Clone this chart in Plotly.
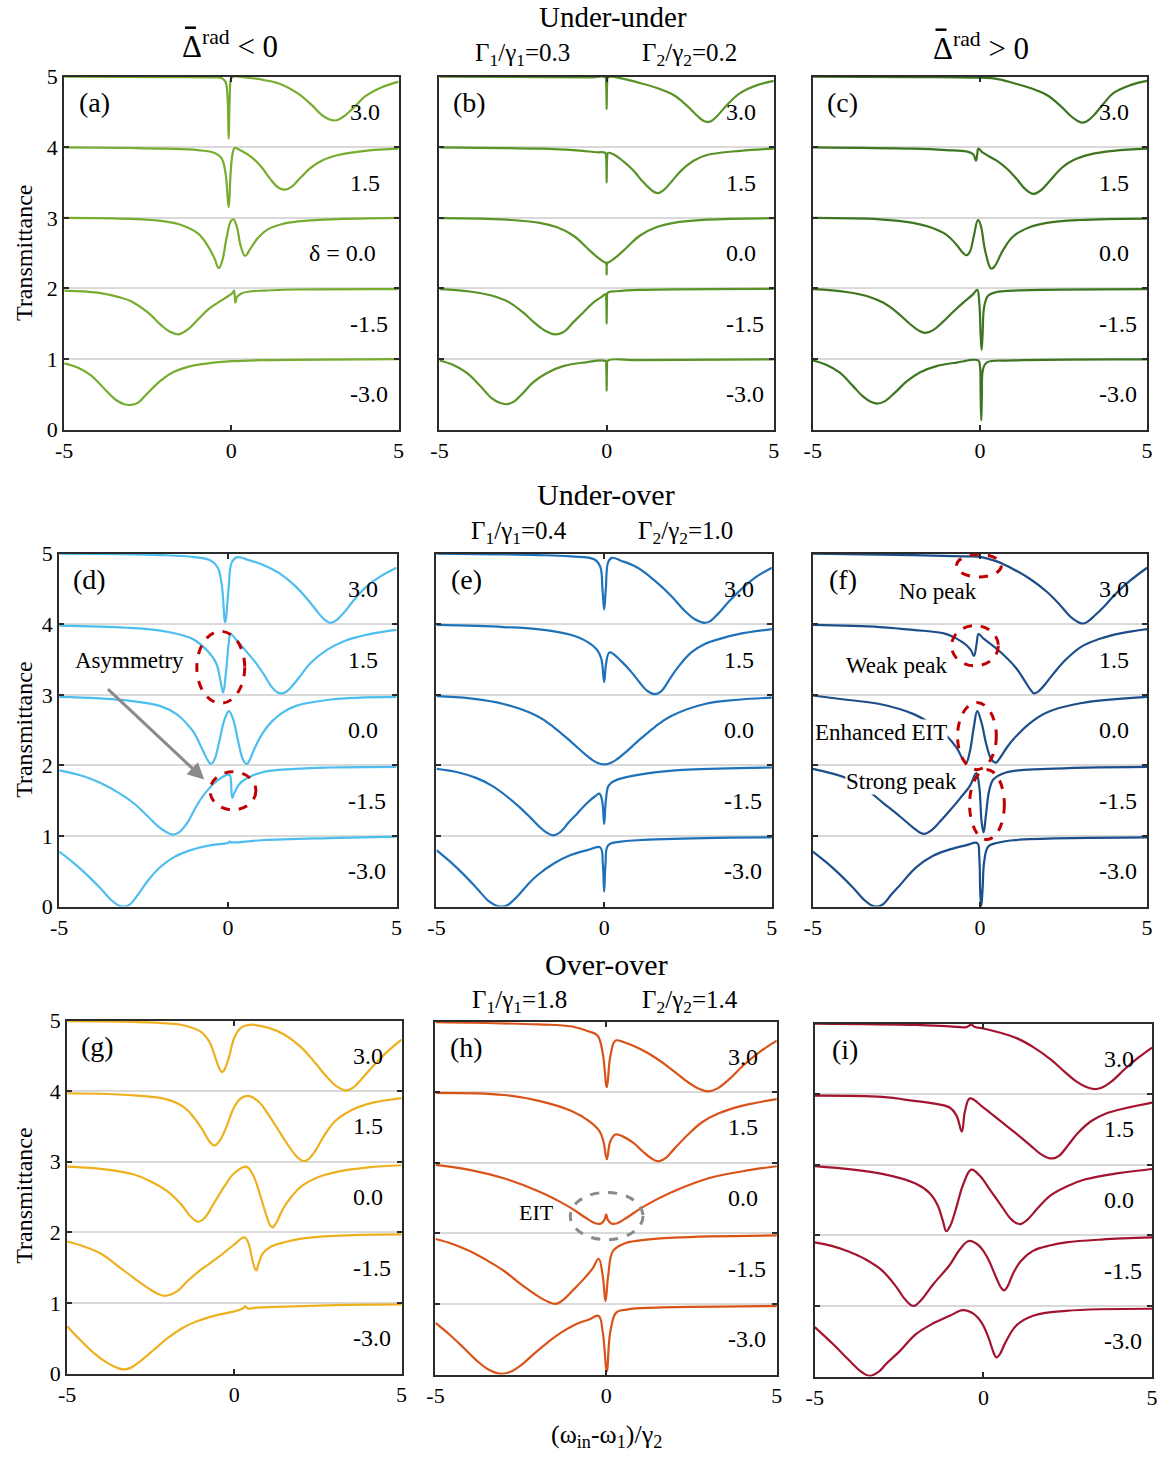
import plotly.graph_objects as go

# ---------------------------------------------------------------------------
# Transmission spectra T(x), x = (w_in - w_1)/gamma_2, one list of (x, T) per
# detuning delta.  Curves are stacked with an offset of 1 per delta.
# ---------------------------------------------------------------------------
DELTA_LABELS = ["3.0", "1.5", "0.0", "-1.5", "-3.0"]
STACK_OFFSETS = [4, 3, 2, 1, 0]

# (a) under-under, negative radiative shift
A_D30 = [(-5, 1.0), (-2, 0.995), (-0.5, 0.99), (-0.3, 0.98), (-0.18, 0.93), (-0.12, 0.75), (-0.08, 0.12),
         (-0.05, 0.7), (-0.01, 0.97), (0.05, 1.0), (0.5, 0.985), (1.0, 0.95), (1.5, 0.89), (2.0, 0.76),
         (2.4, 0.6), (2.7, 0.46), (2.9, 0.4), (3.05, 0.38), (3.2, 0.39), (3.4, 0.45), (3.7, 0.58),
         (4.0, 0.72), (4.5, 0.85), (5.0, 0.93)]
A_D15 = [(-5, 1.0), (-3, 0.99), (-2, 0.98), (-1, 0.96), (-0.5, 0.92), (-0.3, 0.85), (-0.18, 0.65), (-0.08, 0.15),
         (-0.02, 0.65), (0.04, 0.92), (0.1, 0.99), (0.3, 0.95), (0.6, 0.86), (0.9, 0.72), (1.15, 0.56),
         (1.4, 0.43), (1.6, 0.4), (1.8, 0.44), (2.05, 0.56), (2.35, 0.7), (2.7, 0.81), (3.2, 0.89),
         (4.0, 0.95), (5.0, 0.98)]
A_D00 = [(-5, 1.0), (-3, 0.985), (-2, 0.95), (-1.5, 0.9), (-1.0, 0.78), (-0.7, 0.6), (-0.5, 0.42), (-0.38, 0.29),
         (-0.28, 0.38), (-0.15, 0.7), (-0.02, 0.95), (0.06, 0.98), (0.16, 0.88), (0.28, 0.6), (0.41, 0.46),
         (0.55, 0.55), (0.8, 0.72), (1.1, 0.84), (1.5, 0.91), (2.0, 0.95), (3.0, 0.98), (5.0, 1.0)]
A_D_15 = [(-5, 0.97), (-4, 0.94), (-3.4, 0.88), (-3, 0.82), (-2.5, 0.66), (-2.1, 0.48), (-1.85, 0.39),
          (-1.58, 0.35), (-1.3, 0.42), (-1.0, 0.56), (-0.7, 0.7), (-0.4, 0.8), (-0.1, 0.89), (0.04, 0.94),
          (0.08, 0.97), (0.12, 0.8), (0.17, 0.88), (0.3, 0.93), (0.6, 0.96), (1.0, 0.97), (2.0, 0.985), (5.0, 0.99)]
A_D_30 = [(-5, 0.94), (-4.6, 0.88), (-4.2, 0.77), (-3.8, 0.58), (-3.45, 0.42), (-3.2, 0.36), (-3.0, 0.35),
          (-2.8, 0.38), (-2.5, 0.52), (-2.2, 0.66), (-1.8, 0.8), (-1.3, 0.89), (-0.7, 0.94), (0.0, 0.97),
          (1.0, 0.985), (5.0, 1.0)]

# (b) under-under, vanishing radiative shift
B_D30 = [(-5, 1.0), (-2, 0.995), (-0.5, 0.99), (-0.04, 0.99), (-0.015, 0.9), (0.0, 0.54), (0.015, 0.9),
         (0.04, 0.99), (0.5, 0.97), (1.0, 0.91), (1.5, 0.84), (2.0, 0.74), (2.4, 0.59), (2.7, 0.45),
         (2.88, 0.38), (3.0, 0.36), (3.12, 0.37), (3.3, 0.44), (3.6, 0.6), (4.0, 0.77), (4.5, 0.88), (5.0, 0.94)]
B_D15 = [(-5, 1.0), (-2, 0.98), (-1, 0.96), (-0.3, 0.93), (-0.04, 0.92), (-0.015, 0.85), (0.0, 0.5),
         (0.015, 0.85), (0.04, 0.92), (0.2, 0.9), (0.5, 0.8), (0.8, 0.67), (1.05, 0.53), (1.3, 0.41),
         (1.52, 0.35), (1.72, 0.4), (1.95, 0.52), (2.25, 0.68), (2.6, 0.81), (3.0, 0.89), (4.0, 0.95), (5.0, 0.98)]
B_D00 = [(-5, 0.995), (-3, 0.975), (-2, 0.93), (-1.5, 0.87), (-1.0, 0.75), (-0.6, 0.58), (-0.3, 0.45),
         (-0.1, 0.38), (-0.02, 0.36), (0.0, 0.2), (0.02, 0.36), (0.1, 0.38), (0.3, 0.45), (0.6, 0.58),
         (1.0, 0.75), (1.5, 0.87), (2.0, 0.93), (3.0, 0.975), (5.0, 0.995)]
B_D_15 = [(-5, 0.99), (-4, 0.95), (-3.3, 0.88), (-2.9, 0.8), (-2.5, 0.66), (-2.1, 0.49), (-1.8, 0.39),
          (-1.55, 0.35), (-1.3, 0.38), (-1.0, 0.52), (-0.7, 0.66), (-0.4, 0.8), (-0.15, 0.88), (-0.03, 0.92),
          (-0.012, 0.85), (0.0, 0.5), (0.012, 0.85), (0.03, 0.94), (0.3, 0.96), (1.0, 0.98), (5.0, 0.995)]
B_D_30 = [(-5, 0.98), (-4.6, 0.92), (-4.2, 0.81), (-3.8, 0.63), (-3.45, 0.45), (-3.2, 0.38), (-3.0, 0.36),
          (-2.8, 0.39), (-2.5, 0.52), (-2.2, 0.67), (-1.8, 0.8), (-1.3, 0.9), (-0.7, 0.95), (-0.03, 0.97),
          (-0.012, 0.9), (0.0, 0.55), (0.012, 0.9), (0.03, 0.975), (1.0, 0.985), (5.0, 0.995)]

# (c) under-under, positive radiative shift
C_D30 = [(-5, 1.0), (-2, 0.995), (0.0, 0.985), (0.5, 0.97), (1.0, 0.91), (1.5, 0.84), (2.0, 0.74),
         (2.4, 0.59), (2.7, 0.45), (2.9, 0.38), (3.05, 0.35), (3.2, 0.37), (3.4, 0.45), (3.7, 0.62),
         (4.0, 0.77), (4.5, 0.88), (5.0, 0.94)]
C_D15 = [(-5, 1.0), (-2, 0.98), (-1, 0.96), (-0.4, 0.94), (-0.2, 0.9), (-0.12, 0.81), (-0.08, 0.9),
         (-0.05, 0.98), (0.1, 0.92), (0.5, 0.81), (0.8, 0.7), (1.1, 0.55), (1.35, 0.41), (1.6, 0.34),
         (1.82, 0.39), (2.1, 0.53), (2.45, 0.71), (2.8, 0.82), (3.3, 0.9), (4.0, 0.95), (5.0, 0.98)]
C_D00 = [(-5, 1.0), (-3, 0.98), (-2, 0.93), (-1.5, 0.87), (-1.0, 0.76), (-0.7, 0.62), (-0.5, 0.5),
         (-0.4, 0.47), (-0.3, 0.52), (-0.18, 0.75), (-0.06, 0.97), (0.02, 0.9), (0.15, 0.55), (0.3, 0.3),
         (0.36, 0.28), (0.45, 0.32), (0.7, 0.55), (1.0, 0.74), (1.5, 0.87), (2.0, 0.93), (3.0, 0.97), (5.0, 0.99)]
C_D_15 = [(-5, 0.99), (-4, 0.95), (-3.3, 0.88), (-2.9, 0.8), (-2.5, 0.67), (-2.1, 0.5), (-1.85, 0.41),
          (-1.64, 0.37), (-1.4, 0.41), (-1.1, 0.53), (-0.8, 0.67), (-0.5, 0.8), (-0.2, 0.92), (-0.08, 0.98),
          (-0.02, 0.8), (0.02, 0.35), (0.05, 0.13), (0.08, 0.35), (0.13, 0.75), (0.25, 0.9), (0.5, 0.95),
          (1.0, 0.97), (5.0, 0.99)]
C_D_30 = [(-5, 0.98), (-4.6, 0.92), (-4.2, 0.81), (-3.8, 0.62), (-3.5, 0.47), (-3.25, 0.39), (-3.05, 0.37),
          (-2.85, 0.4), (-2.55, 0.52), (-2.2, 0.68), (-1.8, 0.81), (-1.3, 0.9), (-0.7, 0.95), (-0.05, 0.98),
          (0.0, 0.9), (0.02, 0.5), (0.04, 0.13), (0.06, 0.5), (0.09, 0.85), (0.2, 0.95), (1.0, 0.98), (5.0, 0.995)]

# (d) under-over, negative radiative shift
D_D30 = [(-5, 1.0), (-2, 0.98), (-1, 0.95), (-0.5, 0.9), (-0.3, 0.8), (-0.18, 0.55), (-0.08, 0.03),
         (0.02, 0.5), (0.12, 0.88), (0.28, 0.95), (0.6, 0.91), (1.0, 0.85), (1.5, 0.73), (2.0, 0.54),
         (2.4, 0.33), (2.7, 0.15), (2.9, 0.05), (3.05, 0.02), (3.2, 0.05), (3.45, 0.17), (3.75, 0.35),
         (4.1, 0.53), (4.5, 0.67), (5.0, 0.8)]
D_D15 = [(-5, 0.98), (-3, 0.95), (-2, 0.91), (-1.4, 0.85), (-1, 0.78), (-0.6, 0.62), (-0.35, 0.45),
         (-0.22, 0.2), (-0.14, 0.03), (-0.05, 0.35), (0.03, 0.75), (0.08, 0.86), (0.25, 0.78), (0.5, 0.64),
         (0.8, 0.47), (1.05, 0.3), (1.3, 0.11), (1.45, 0.04), (1.6, 0.02), (1.75, 0.05), (1.95, 0.15),
         (2.2, 0.3), (2.45, 0.45), (2.95, 0.64), (3.5, 0.77), (4.2, 0.86), (5.0, 0.92)]
D_D00 = [(-5, 0.97), (-3, 0.92), (-2, 0.84), (-1.5, 0.72), (-1.2, 0.58), (-1.0, 0.46), (-0.75, 0.22),
         (-0.58, 0.06), (-0.5, 0.02), (-0.4, 0.08), (-0.25, 0.35), (-0.1, 0.65), (0.03, 0.77), (0.16, 0.65),
         (0.3, 0.35), (0.45, 0.08), (0.55, 0.02), (0.63, 0.06), (0.8, 0.25), (1.05, 0.47), (1.3, 0.62),
         (1.6, 0.74), (2.0, 0.84), (3.0, 0.93), (5.0, 0.97)]
D_D_15 = [(-5, 0.93), (-4.3, 0.85), (-3.77, 0.75), (-3.2, 0.6), (-2.78, 0.46), (-2.4, 0.29), (-2.05, 0.13),
          (-1.8, 0.05), (-1.64, 0.02), (-1.45, 0.05), (-1.2, 0.19), (-0.9, 0.45), (-0.6, 0.65), (-0.3, 0.79),
          (0.0, 0.87), (0.06, 0.86), (0.13, 0.54), (0.2, 0.62), (0.35, 0.74), (0.5, 0.8), (1.0, 0.9),
          (2.0, 0.95), (3.0, 0.97), (5.0, 0.98)]
D_D_30 = [(-5, 0.78), (-4.6, 0.63), (-4.2, 0.46), (-3.8, 0.27), (-3.45, 0.09), (-3.25, 0.02), (-3.06, 0.0),
          (-2.88, 0.04), (-2.65, 0.18), (-2.35, 0.38), (-2.0, 0.56), (-1.6, 0.7), (-1.1, 0.8), (-0.5, 0.87),
          (0.0, 0.9), (0.05, 0.92), (0.1, 0.91), (1.0, 0.94), (3.0, 0.97), (5.0, 0.99)]

# (e) under-over, vanishing radiative shift
E_D30 = [(-5, 1.0), (-2, 0.98), (-1, 0.96), (-0.3, 0.92), (-0.12, 0.82), (-0.05, 0.5), (0.0, 0.21),
         (0.05, 0.5), (0.12, 0.88), (0.23, 0.94), (0.5, 0.9), (1.0, 0.8), (1.5, 0.62), (2.0, 0.4),
         (2.4, 0.19), (2.7, 0.07), (2.9, 0.03), (3.0, 0.02), (3.15, 0.04), (3.4, 0.15), (3.7, 0.31),
         (4.1, 0.5), (4.5, 0.66), (5.0, 0.8)]
E_D15 = [(-5, 0.99), (-3, 0.96), (-2, 0.93), (-1, 0.85), (-0.5, 0.75), (-0.2, 0.63), (-0.08, 0.5),
         (0.0, 0.18), (0.06, 0.45), (0.16, 0.6), (0.5, 0.48), (0.85, 0.3), (1.1, 0.15), (1.3, 0.05),
         (1.5, 0.01), (1.7, 0.05), (1.95, 0.22), (2.25, 0.42), (2.6, 0.6), (3.0, 0.72), (3.5, 0.8),
         (4.0, 0.86), (5.0, 0.93)]
E_D00 = [(-5, 0.98), (-4, 0.95), (-3, 0.87), (-2, 0.7), (-1.5, 0.54), (-1.0, 0.34), (-0.6, 0.17),
         (-0.3, 0.06), (-0.1, 0.02), (0.1, 0.02), (0.3, 0.06), (0.6, 0.17), (1.0, 0.34), (1.5, 0.54),
         (2.0, 0.7), (3.0, 0.87), (4.0, 0.93), (5.0, 0.96)]
E_D_15 = [(-5, 0.95), (-4.34, 0.9), (-3.8, 0.82), (-3.34, 0.71), (-2.9, 0.56), (-2.55, 0.42), (-2.2, 0.26),
          (-1.95, 0.14), (-1.72, 0.05), (-1.52, 0.01), (-1.3, 0.06), (-1.06, 0.19), (-0.8, 0.32),
          (-0.5, 0.47), (-0.25, 0.57), (-0.14, 0.6), (-0.06, 0.5), (0.0, 0.17), (0.05, 0.5), (0.13, 0.71),
          (0.3, 0.78), (0.63, 0.83), (1.5, 0.9), (2.5, 0.94), (5.0, 0.97)]
E_D_30 = [(-5, 0.8), (-4.6, 0.64), (-4.2, 0.46), (-3.8, 0.26), (-3.45, 0.08), (-3.25, 0.02), (-3.04, 0.0),
          (-2.85, 0.03), (-2.6, 0.14), (-2.3, 0.3), (-2.0, 0.44), (-1.5, 0.61), (-1.0, 0.73), (-0.5, 0.8),
          (-0.12, 0.84), (-0.04, 0.6), (0.0, 0.21), (0.04, 0.6), (0.12, 0.87), (0.5, 0.92), (1.0, 0.94),
          (3.0, 0.97), (5.0, 0.98)]

# (f) under-over, positive radiative shift
F_D30 = [(-5, 1.0), (-2, 0.98), (-0.5, 0.96), (0.0, 0.955), (0.5, 0.89), (1.0, 0.78), (1.5, 0.64),
         (2.0, 0.46), (2.4, 0.27), (2.7, 0.11), (2.9, 0.04), (3.06, 0.01), (3.2, 0.03), (3.45, 0.13),
         (3.75, 0.27), (4.1, 0.45), (4.5, 0.62), (5.0, 0.8)]
F_D15 = [(-5, 0.99), (-3, 0.96), (-2, 0.92), (-1, 0.86), (-0.5, 0.74), (-0.28, 0.64), (-0.18, 0.55),
         (-0.1, 0.72), (-0.04, 0.86), (0.1, 0.8), (0.58, 0.62), (1.08, 0.38), (1.35, 0.19), (1.5, 0.08),
         (1.62, 0.02), (1.75, 0.05), (1.95, 0.15), (2.2, 0.3), (2.57, 0.5), (3.06, 0.69), (3.56, 0.79),
         (4.2, 0.87), (5.0, 0.93)]
F_D00 = [(-5, 0.99), (-4, 0.93), (-3, 0.87), (-2, 0.73), (-1.4, 0.57), (-1, 0.42), (-0.7, 0.25),
         (-0.5, 0.08), (-0.41, 0.04), (-0.3, 0.2), (-0.18, 0.55), (-0.08, 0.77), (0.05, 0.6), (0.2, 0.28),
         (0.35, 0.08), (0.48, 0.04), (0.62, 0.12), (0.8, 0.25), (1.0, 0.37), (1.5, 0.6), (2.0, 0.75),
         (3.0, 0.88), (5.0, 0.97)]
F_D_15 = [(-5, 0.95), (-4, 0.82), (-3.4, 0.66), (-2.9, 0.47), (-2.4, 0.28), (-2.0, 0.12), (-1.8, 0.05),
          (-1.65, 0.03), (-1.45, 0.08), (-1.2, 0.2), (-0.9, 0.36), (-0.6, 0.53), (-0.3, 0.71), (-0.11, 0.89),
          (-0.02, 0.7), (0.05, 0.2), (0.11, 0.05), (0.18, 0.3), (0.28, 0.65), (0.4, 0.8), (0.78, 0.9),
          (2.0, 0.95), (5.0, 0.98)]
F_D_30 = [(-5, 0.78), (-4.6, 0.63), (-4.2, 0.46), (-3.8, 0.27), (-3.45, 0.09), (-3.25, 0.02), (-3.07, 0.0),
          (-2.88, 0.04), (-2.65, 0.17), (-2.4, 0.3), (-1.9, 0.56), (-1.4, 0.72), (-0.9, 0.81), (-0.4, 0.87),
          (-0.08, 0.9), (-0.02, 0.7), (0.01, 0.2), (0.04, 0.0), (0.08, 0.25), (0.13, 0.65), (0.25, 0.85),
          (0.5, 0.9), (1.0, 0.94), (5.0, 0.98)]

# (g) over-over, negative radiative shift
G_D30 = [(-5, 0.99), (-3, 0.98), (-2, 0.96), (-1.5, 0.93), (-1.0, 0.84), (-0.75, 0.7), (-0.55, 0.45),
         (-0.45, 0.32), (-0.37, 0.27), (-0.28, 0.32), (-0.15, 0.5), (0.0, 0.76), (0.2, 0.9), (0.45, 0.94),
         (1.0, 0.9), (1.5, 0.8), (2.0, 0.62), (2.4, 0.41), (2.75, 0.21), (3.05, 0.07), (3.25, 0.02),
         (3.36, 0.01), (3.55, 0.05), (3.8, 0.17), (4.2, 0.38), (4.6, 0.57), (5.0, 0.73)]
G_D15 = [(-5, 0.97), (-3, 0.94), (-2, 0.88), (-1.5, 0.77), (-1.2, 0.62), (-0.95, 0.45), (-0.75, 0.29),
         (-0.6, 0.23), (-0.45, 0.29), (-0.25, 0.48), (0.0, 0.78), (0.2, 0.9), (0.45, 0.93), (0.75, 0.84),
         (1.0, 0.68), (1.3, 0.46), (1.6, 0.24), (1.85, 0.08), (2.0, 0.02), (2.09, 0.01), (2.2, 0.03),
         (2.4, 0.14), (2.7, 0.38), (3.0, 0.57), (3.5, 0.73), (4.0, 0.82), (5.0, 0.9)]
G_D00 = [(-5, 0.93), (-4, 0.9), (-3, 0.82), (-2.5, 0.72), (-2, 0.58), (-1.6, 0.4), (-1.3, 0.22),
         (-1.09, 0.15), (-0.9, 0.2), (-0.6, 0.42), (-0.3, 0.65), (0.0, 0.84), (0.35, 0.93), (0.55, 0.82),
         (0.75, 0.56), (0.95, 0.25), (1.07, 0.1), (1.14, 0.07), (1.25, 0.13), (1.45, 0.33), (1.7, 0.5),
         (2.0, 0.65), (2.5, 0.78), (3.0, 0.85), (4.0, 0.92), (5.0, 0.95)]
G_D_15 = [(-5, 0.87), (-4.5, 0.8), (-4, 0.7), (-3.5, 0.53), (-3, 0.35), (-2.58, 0.21), (-2.3, 0.13),
          (-2.09, 0.1), (-1.9, 0.12), (-1.7, 0.17), (-1.4, 0.31), (-1.0, 0.47), (-0.5, 0.64), (0.0, 0.83),
          (0.3, 0.93), (0.42, 0.85), (0.52, 0.65), (0.62, 0.48), (0.66, 0.46), (0.72, 0.55), (0.85, 0.7),
          (1.1, 0.8), (1.5, 0.86), (2.0, 0.91), (3.0, 0.95), (5.0, 0.97)]
G_D_30 = [(-5, 0.67), (-4.6, 0.47), (-4.2, 0.29), (-3.8, 0.15), (-3.5, 0.08), (-3.33, 0.06), (-3.1, 0.08),
          (-2.8, 0.18), (-2.4, 0.34), (-2.0, 0.5), (-1.5, 0.66), (-1.0, 0.76), (-0.5, 0.83), (0.0, 0.88),
          (0.25, 0.92), (0.33, 0.95), (0.4, 0.92), (0.6, 0.93), (1.0, 0.94), (3.0, 0.97), (5.0, 0.98)]

# (h) over-over, vanishing radiative shift
H_D30 = [(-5, 0.99), (-2, 0.96), (-1, 0.93), (-0.5, 0.86), (-0.25, 0.8), (-0.1, 0.55), (0.02, 0.07),
         (0.12, 0.5), (0.27, 0.73), (0.5, 0.71), (1.0, 0.61), (1.5, 0.47), (2.0, 0.29), (2.4, 0.14),
         (2.75, 0.04), (2.98, 0.01), (3.25, 0.05), (3.6, 0.18), (4.0, 0.37), (4.5, 0.57), (5.0, 0.73)]
H_D15 = [(-5, 0.99), (-3, 0.96), (-2, 0.88), (-1, 0.73), (-0.5, 0.59), (-0.2, 0.45), (-0.08, 0.3),
         (0.02, 0.05), (0.12, 0.3), (0.27, 0.4), (0.5, 0.37), (0.8, 0.28), (1.05, 0.17), (1.3, 0.07),
         (1.54, 0.02), (1.75, 0.07), (2.0, 0.2), (2.4, 0.4), (2.8, 0.57), (3.3, 0.7), (4.0, 0.81), (5.0, 0.9)]
H_D00 = [(-5, 0.97), (-4, 0.9), (-3, 0.78), (-2, 0.6), (-1.4, 0.46), (-1, 0.35), (-0.6, 0.22),
         (-0.3, 0.14), (-0.15, 0.14), (-0.05, 0.19), (0.0, 0.27), (0.05, 0.19), (0.15, 0.14), (0.3, 0.14),
         (0.6, 0.22), (1.0, 0.35), (1.4, 0.46), (2.0, 0.6), (3.0, 0.78), (4.0, 0.88), (5.0, 0.95)]
H_D_15 = [(-5, 0.92), (-4.5, 0.85), (-4, 0.75), (-3.5, 0.62), (-3, 0.47), (-2.5, 0.28), (-2.0, 0.11),
          (-1.7, 0.03), (-1.49, 0.0), (-1.25, 0.06), (-1.0, 0.18), (-0.7, 0.33), (-0.4, 0.5), (-0.22, 0.64),
          (-0.1, 0.4), (-0.02, 0.04), (0.06, 0.4), (0.2, 0.75), (0.5, 0.85), (1.0, 0.9), (2.0, 0.94), (5.0, 0.97)]
H_D_30 = [(-5, 0.73), (-4.6, 0.57), (-4.2, 0.39), (-3.8, 0.2), (-3.45, 0.07), (-3.2, 0.02), (-3.05, 0.01),
          (-2.8, 0.04), (-2.5, 0.13), (-2.1, 0.3), (-1.7, 0.46), (-1.3, 0.6), (-0.9, 0.71), (-0.5, 0.78),
          (-0.22, 0.83), (-0.1, 0.6), (0.02, 0.05), (0.12, 0.6), (0.3, 0.88), (0.6, 0.92), (1.0, 0.94), (5.0, 0.97)]

# (i) over-over, positive radiative shift
I_D30 = [(-5, 1.0), (-2, 0.98), (-1, 0.96), (-0.5, 0.95), (-0.36, 0.985), (-0.25, 0.95), (0.0, 0.93),
         (0.5, 0.87), (1.0, 0.79), (1.5, 0.66), (2.0, 0.49), (2.4, 0.32), (2.75, 0.18), (3.05, 0.1),
         (3.29, 0.07), (3.5, 0.09), (3.8, 0.18), (4.2, 0.36), (4.6, 0.52), (5.0, 0.66)]
I_D15 = [(-5, 0.98), (-3, 0.96), (-2, 0.9), (-1.5, 0.87), (-1.0, 0.81), (-0.8, 0.7), (-0.64, 0.47),
         (-0.55, 0.75), (-0.4, 0.94), (0.0, 0.81), (0.5, 0.62), (1.0, 0.43), (1.4, 0.27), (1.7, 0.15),
         (1.9, 0.1), (2.06, 0.09), (2.25, 0.13), (2.5, 0.27), (2.8, 0.45), (3.2, 0.62), (3.6, 0.72),
         (4.2, 0.8), (5.0, 0.88)]
I_D00 = [(-5, 0.98), (-3, 0.87), (-2, 0.73), (-1.6, 0.6), (-1.35, 0.42), (-1.2, 0.2), (-1.1, 0.06),
         (-0.98, 0.14), (-0.8, 0.4), (-0.6, 0.72), (-0.36, 0.93), (-0.1, 0.84), (0.2, 0.64), (0.5, 0.44),
         (0.78, 0.25), (0.95, 0.18), (1.1, 0.16), (1.3, 0.22), (1.6, 0.38), (2.0, 0.57), (2.5, 0.7),
         (3.0, 0.79), (4.0, 0.88), (5.0, 0.94)]
I_D_15 = [(-5, 0.9), (-4.5, 0.85), (-4, 0.77), (-3.5, 0.66), (-3, 0.5), (-2.6, 0.28), (-2.3, 0.08),
          (-2.07, 0.0), (-1.85, 0.08), (-1.5, 0.3), (-1.0, 0.58), (-0.7, 0.8), (-0.43, 0.92), (-0.15, 0.86),
          (0.1, 0.7), (0.38, 0.4), (0.52, 0.26), (0.61, 0.22), (0.72, 0.28), (0.87, 0.45), (1.1, 0.63),
          (1.47, 0.78), (2.0, 0.86), (2.45, 0.9), (3.5, 0.94), (5.0, 0.97)]
I_D_30 = [(-5, 0.7), (-4.46, 0.46), (-3.96, 0.22), (-3.6, 0.06), (-3.37, 0.01), (-3.1, 0.07), (-2.88, 0.18),
          (-2.48, 0.36), (-2.0, 0.6), (-1.5, 0.75), (-1.0, 0.86), (-0.61, 0.94), (-0.3, 0.89), (-0.05, 0.76),
          (0.15, 0.55), (0.3, 0.34), (0.38, 0.27), (0.48, 0.31), (0.65, 0.48), (0.97, 0.72), (1.47, 0.86),
          (2.45, 0.93), (5.0, 0.96)]

# ---------------------------------------------------------------------------
# Page geometry.  Positions below are given in screen pixels and converted to
# paper fractions; the page is drawn with a small inset, which fx/fy undo.
# ---------------------------------------------------------------------------
W, H = 1163, 1459
SERIF = "Liberation Serif, Times New Roman, serif"
INSET_X, SCALE_X = 7.7, 0.989
INSET_Y, SCALE_Y = 12.3, 0.983


def fx(px):
    return ((px - INSET_X) / SCALE_X) / W


def fy(py):
    return 1 - ((py - INSET_Y) / SCALE_Y) / H


PANELS = [
    ("(a)", [A_D30, A_D15, A_D00, A_D_15, A_D_30], "#77AC30", (63, 398, 77, 430)),
    ("(b)", [B_D30, B_D15, B_D00, B_D_15, B_D_30], "#5A9428", (439, 774, 77, 430)),
    ("(c)", [C_D30, C_D15, C_D00, C_D_15, C_D_30], "#3E7520", (813, 1148, 77, 430)),
    ("(d)", [D_D30, D_D15, D_D00, D_D_15, D_D_30], "#4DBEEE", (58, 396, 554, 907)),
    ("(e)", [E_D30, E_D15, E_D00, E_D_15, E_D_30], "#1F72BA", (436, 772, 554, 907)),
    ("(f)", [F_D30, F_D15, F_D00, F_D_15, F_D_30], "#1C4E8A", (813, 1148, 554, 907)),
    ("(g)", [G_D30, G_D15, G_D00, G_D_15, G_D_30], "#EDB120", (66, 401, 1021, 1374)),
    ("(h)", [H_D30, H_D15, H_D00, H_D_15, H_D_30], "#D95319", (435, 777, 1022, 1375)),
    ("(i)", [I_D30, I_D15, I_D00, I_D_15, I_D_30], "#A2142F", (815, 1153, 1024, 1377)),
]

fig = go.Figure()
layout = dict(
    width=W, height=H, margin=dict(l=0, r=0, t=0, b=0), autosize=False,
    paper_bgcolor="white", plot_bgcolor="white", showlegend=False,
    font=dict(family=SERIF, color="black"),
)
annotations = []
shapes = []

for k, (tag, curves, color, (px0, px1, py0, py1)) in enumerate(PANELS, start=1):
    xa = "x" if k == 1 else f"x{k}"
    ya = "y" if k == 1 else f"y{k}"
    for curve, off in zip(curves, STACK_OFFSETS):
        fig.add_trace(go.Scatter(
            x=[p[0] for p in curve], y=[p[1] + off for p in curve],
            mode="lines", line=dict(color=color, width=2.2, shape="spline", smoothing=1.1),
            xaxis=xa, yaxis=ya, hoverinfo="skip",
        ))
    left_col = (k - 1) % 3 == 0
    common = dict(showline=True, linecolor="#2b2b2b", linewidth=2, mirror="ticks",
                  ticks="inside", ticklen=5, tickwidth=1.5, tickcolor="#2b2b2b",
                  zeroline=False, tickfont=dict(family=SERIF, size=22, color="black"))
    layout["xaxis" if k == 1 else f"xaxis{k}"] = dict(
        domain=[fx(px0), fx(px1)], anchor=ya, range=[-5, 5], showgrid=False,
        tickvals=[-5, 0, 5], ticktext=["-5", "0", "5"], **common)
    layout["yaxis" if k == 1 else f"yaxis{k}"] = dict(
        domain=[fy(py1), fy(py0)], anchor=xa, range=[0, 5],
        tickvals=[0, 1, 2, 3, 4, 5], showticklabels=left_col,
        showgrid=True, gridcolor="#d9d9d9", gridwidth=2, **common)

    # panel tag
    annotations.append(dict(x=-4.1, y=4.63, xref=xa, yref=ya, text=tag, showarrow=False,
                            font=dict(family=SERIF, size=28), xanchor="center", yanchor="middle"))
    # detuning labels
    for lab, off in zip(DELTA_LABELS, STACK_OFFSETS):
        if k == 1 and lab == "0.0":
            annotations.append(dict(x=4.4, y=off + 0.5, xref=xa, yref=ya, text="δ = 0.0",
                                    showarrow=False, xanchor="right", yanchor="middle",
                                    font=dict(family=SERIF, size=24)))
        else:
            annotations.append(dict(x=3.5, y=off + 0.5, xref=xa, yref=ya, text=lab,
                                    showarrow=False, xanchor="left", yanchor="middle",
                                    font=dict(family=SERIF, size=24)))


def paper_text(text, px, py, size, **kw):
    d = dict(x=fx(px), y=fy(py), xref="paper", yref="paper", text=text, showarrow=False,
             xanchor="center", yanchor="middle", font=dict(family=SERIF, size=size, color="black"))
    d.update(kw)
    return d


# row headers
annotations += [
    paper_text("Under-under", 613, 17, 29),
    paper_text("Γ<sub>1</sub>/γ<sub>1</sub>=0.3", 522, 55, 25),
    paper_text("Γ<sub>2</sub>/γ<sub>2</sub>=0.2", 690, 55, 25),
    paper_text("Δ<sup>rad</sup> &lt; 0", 179, 45, 31, xanchor="left"),
    paper_text("Δ<sup>rad</sup> &gt; 0", 931, 47, 31, xanchor="left"),
    paper_text("Under-over", 606, 495, 30),
    paper_text("Γ<sub>1</sub>/γ<sub>1</sub>=0.4", 519, 533, 25),
    paper_text("Γ<sub>2</sub>/γ<sub>2</sub>=1.0", 686, 533, 25),
    paper_text("Over-over", 606, 965, 30),
    paper_text("Γ<sub>1</sub>/γ<sub>1</sub>=1.8", 519, 1002, 25),
    paper_text("Γ<sub>2</sub>/γ<sub>2</sub>=1.4", 690, 1002, 25),
    paper_text("(ω<sub>in</sub>-ω<sub>1</sub>)/γ<sub>2</sub>", 606, 1436, 26),
]
# overbars on the two Delta symbols
for bx0, bx1, by in [(184, 195, 28), (936, 947, 30)]:
    shapes.append(dict(type="line", xref="paper", yref="paper", x0=fx(bx0), x1=fx(bx1),
                       y0=fy(by), y1=fy(by), line=dict(color="black", width=2.5)))
for py in (253, 730, 1196):
    annotations.append(paper_text("Transmittance", 22, py, 24, textangle=-90))

# (d): asymmetric features
annotations.append(dict(x=-2.93, y=3.48, xref="x4", yref="y4", text="Asymmetry", showarrow=False,
                        font=dict(family=SERIF, size=23), xanchor="center", yanchor="middle"))
annotations.append(dict(x=-0.7, y=1.8, ax=-3.6, ay=3.1, xref="x4", yref="y4", axref="x4", ayref="y4",
                        text="", showarrow=True, arrowhead=2, arrowsize=1.1, arrowwidth=3,
                        arrowcolor="#8a8a8a"))
RED = "#C00000"
for (x0, x1, y0, y1) in [(-0.92, 0.5, 2.88, 3.9), (-0.53, 0.83, 1.37, 1.91)]:
    shapes.append(dict(type="circle", xref="x4", yref="y4", x0=x0, x1=x1, y0=y0, y1=y1,
                       line=dict(color=RED, width=3, dash="dash")))

# (f): evolution of the transparency peak
for text, x, y, bg in [("No peak", -1.24, 4.46, "rgba(0,0,0,0)"), ("Weak peak", -2.49, 3.41, "rgba(0,0,0,0)"),
                       ("Enhanced EIT", -2.95, 2.46, "white"), ("Strong peak", -2.34, 1.77, "white")]:
    annotations.append(dict(x=x, y=y, xref="x6", yref="y6", text=text, showarrow=False, bgcolor=bg,
                            borderpad=0, font=dict(family=SERIF, size=23), xanchor="center",
                            yanchor="middle"))
for (x0, x1, y0, y1) in [(-0.7, 0.64, 4.67, 4.99), (-0.85, 0.55, 3.41, 3.98),
                         (-0.67, 0.49, 1.94, 2.89), (-0.31, 0.73, 0.95, 1.94)]:
    shapes.append(dict(type="circle", xref="x6", yref="y6", x0=x0, x1=x1, y0=y0, y1=y1,
                       line=dict(color=RED, width=3, dash="dash")))

# (h): EIT window
annotations.append(dict(x=-2.05, y=2.29, xref="x8", yref="y8", text="EIT", showarrow=False,
                        font=dict(family=SERIF, size=22), xanchor="center", yanchor="middle"))
shapes.append(dict(type="circle", xref="x8", yref="y8", x0=-1.05, x1=1.08, y0=1.91, y1=2.58,
                   line=dict(color="#8a8a8a", width=3, dash="dash")))

layout["annotations"] = annotations
layout["shapes"] = shapes
fig.update_layout(**layout)
fig.write_html("out.html", config={"responsive": False})
